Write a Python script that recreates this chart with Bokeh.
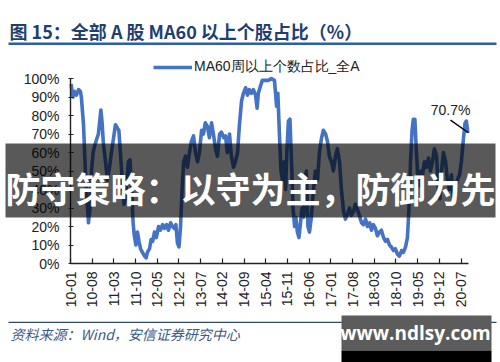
from bokeh.plotting import figure
from bokeh.models import (Range1d, FixedTicker, Label, BoxAnnotation, Legend,
                          LegendItem, PrintfTickFormatter)
from bokeh.embed import file_html
from bokeh.resources import INLINE

# ---------------- data ----------------
# months since 2010-01 (weekly series sampled)
t_months = [0.2, 0.5, 0.8, 1.3, 1.9, 2.6, 3.2, 3.5, 4.2, 4.8, 5.3, 5.8, 6.3, 6.8, 7.3, 7.7, 8.4, 9.0, 9.5, 9.8,
            10.2, 10.6, 11.3, 11.9, 12.6, 13.2, 13.9, 14.5, 15.2, 15.6, 16.1, 16.8, 17.3, 17.7, 18.2, 18.7, 19.2, 19.7,
            20.2, 20.6, 21.1, 21.6, 22.1, 22.6, 23.2, 23.9, 24.4, 24.8, 25.5, 26.0, 26.5, 27.1, 27.7, 28.4, 29.0, 29.7,
            30.3, 31.0, 31.6, 32.3, 32.9, 33.5, 34.0, 34.5, 35.0, 35.5, 36.0, 36.5, 37.1, 37.7, 38.4, 39.0, 39.7,
            40.3, 41.0, 41.6, 42.3, 42.9, 43.5, 44.2, 44.8, 45.5, 46.1, 46.8, 47.4, 48.1, 48.7, 49.4, 50.0, 50.6,
            51.3, 51.9, 52.6, 53.2, 53.9, 54.5, 55.2, 55.8, 56.5, 57.1, 57.7, 58.4, 59.0, 59.7, 60.2, 60.6, 61.3,
            61.9, 62.9, 63.9, 64.8, 65.8, 66.5, 66.9, 67.4, 67.9, 68.4, 68.9, 69.4, 69.8, 70.3, 70.8, 71.3, 71.8,
            72.3, 72.7, 73.2, 73.7, 74.2, 74.7, 75.2, 75.6, 76.1, 76.6, 77.1, 77.7, 78.4, 79.0, 79.7, 80.3, 81.0,
            81.6, 82.3, 82.9, 83.5, 84.2, 84.8, 85.5, 86.1, 86.8, 87.4, 88.1, 88.7, 89.4, 90.0, 90.6, 91.3, 91.9,
            92.6, 93.2, 93.9, 94.5, 95.2, 95.8, 96.5, 97.1, 97.7, 98.4, 99.0, 99.7, 100.3, 101.0, 101.6, 102.3,
            102.9, 103.5, 104.2, 104.8, 105.5, 106.1, 106.8, 107.4, 108.1, 108.7, 109.2, 109.7, 110.2, 110.6,
            111.1, 111.6, 112.1, 112.6, 113.1, 113.5, 114.2, 114.8, 115.5, 116.1, 116.8, 117.4, 118.1, 118.7,
            119.2, 119.7, 120.3, 121.0, 121.6, 122.3, 122.9, 123.5, 124.2, 124.8, 125.5, 126.1, 126.8, 127.3,
            127.7, 128.2]
share_pct = [97, 93, 90, 93, 91, 94, 93, 90, 75, 50, 35, 22, 30, 50, 60, 63, 67, 70, 78, 83,
             76, 65, 55, 45, 52, 60, 68, 75, 73, 72, 60, 42, 32, 35, 45, 55, 56, 40,
             22, 15, 10, 17, 12, 8, 6, 4, 3, 6, 8, 13, 12, 17, 14, 20, 18, 21,
             19, 21, 18, 22, 20, 19, 21, 11, 9, 20, 40, 55, 58, 52, 60, 66, 69,
             60, 55, 60, 72, 70, 76, 74, 68, 76, 70, 62, 58, 70, 71, 68, 69, 60,
             70, 58, 52, 55, 60, 75, 88, 92, 95, 91, 94, 92, 94, 91, 84, 92, 96,
             99, 99, 99, 100, 99, 85, 92, 70, 50, 45, 55, 40, 60, 77, 78, 55,
             30, 20, 25, 17, 14, 22, 30, 25, 45, 50, 20, 17, 25, 40, 50, 45, 60,
             68, 72, 70, 66, 58, 55, 50, 58, 62, 55, 40, 28, 24, 27, 30, 26, 28,
             32, 29, 26, 22, 21, 24, 20, 22, 18, 21, 19, 15, 17, 18, 14, 12, 13,
             10, 9, 7, 8, 5, 4, 7, 6, 9, 14, 30, 55, 72, 78,
             78, 60, 45, 42, 50, 47, 55, 52, 57, 50, 55, 62, 58, 40,
             35, 50, 60, 55, 45, 40, 48, 36, 42, 45, 48, 55, 68, 76,
             77, 70.7]
assert len(t_months) == len(share_pct), (len(t_months), len(share_pct))

tick_months = [0, 7, 14, 21, 28, 35, 42, 49, 56, 63, 70, 77, 84, 91, 98, 105, 112, 119, 126]
tick_labels = ["10-01", "10-08", "11-03", "11-10", "12-05", "12-12", "13-07", "14-02", "14-09",
               "15-04", "15-11", "16-06", "17-01", "17-08", "18-03", "18-10", "19-05", "19-12", "20-07"]
y_ticks = [0, 10, 20, 30, 40, 50, 60, 70, 80, 90, 100]
x_end = 128.5
y_end = 100

series_name = "MA60周以上个数占比_全A"
last_label = "70.7%"
last_value = 70.7
title_text = "图 15：全部 A 股 MA60 以上个股占比（%）"
source_text = "资料来源：Wind，安信证券研究中心"
banner_text = "防守策略：以守为主，防御为先"
watermark_text = "www.ndlsy.com"

# ---------------- layout (page pixels) ----------------
W, H = 500, 362
AX_LEFT, AX_RIGHT = 70.0, 468.3     # pixel x of month 0 and x_end
AX_BOTTOM, AX_TOP = 263.0, 78.0     # pixel y of 0% and 100%
kx = (AX_RIGHT - AX_LEFT) / x_end
ky = (AX_BOTTOM - AX_TOP) / y_end

p = figure(width=W, height=H, output_backend="svg", toolbar_location=None,
           x_range=Range1d(-AX_LEFT / kx, (W - AX_LEFT) / kx),
           y_range=Range1d(-(H - AX_BOTTOM) / ky, AX_BOTTOM / ky),
           min_border=0, min_border_left=0, min_border_right=0, min_border_top=0, min_border_bottom=0)
p.outline_line_color = None
p.grid.grid_line_color = None
p.background_fill_color = "white"
p.border_fill_color = "white"

BLUE = "#4472C4"
r = p.line(t_months, share_pct, line_color=BLUE, line_width=3.6, line_join="round")

# axes drawn at fixed locations inside the canvas
for ax in (p.xaxis[0], p.yaxis[0]):
    ax.fixed_location = 0
    ax.axis_line_color = "#222222"
    ax.axis_line_width = 1.4
    ax.major_tick_line_color = "#222222"
    ax.major_tick_line_width = 1.2
    ax.minor_tick_line_color = None
    ax.major_label_text_font = "Liberation Sans"
    ax.major_label_text_font_size = "14px"
    ax.major_label_text_color = "#222222"

p.xaxis.bounds = (0, x_end)
p.xaxis.ticker = FixedTicker(ticks=tick_months)
p.xaxis.major_label_overrides = {m: lab for m, lab in zip(tick_months, tick_labels)}
p.xaxis.major_label_orientation = 1.5708
p.xaxis.major_tick_in = 5
p.xaxis.major_tick_out = 0
p.xaxis.major_label_standoff = 8

p.yaxis.bounds = (0, y_end)
p.yaxis.ticker = FixedTicker(ticks=y_ticks)
p.yaxis.formatter = PrintfTickFormatter(format="%d%%")
p.yaxis.major_tick_in = 3
p.yaxis.major_tick_out = 2
p.yaxis.major_label_standoff = 9

# annotation of last value
p.segment(x0=[122.6], y0=[77.5], x1=[128.4], y1=[last_value], line_color="black", line_width=1.4)
p.add_layout(Label(x=122.6, y=83.2, text=last_label, text_align="center", text_baseline="middle",
                   text_font="Liberation Sans", text_font_size="14px", text_color="#222222"))


# positions given in page pixels -> screen units (from canvas bottom-left)
def sx(px):
    return px


def sy(py):
    return H - py


# legend
legend = Legend(items=[LegendItem(label=series_name, renderers=[r])],
                location=(sx(153), sy(76)), orientation="horizontal",
                padding=0, margin=0, spacing=0, glyph_width=39, glyph_height=16,
                label_height=16, label_standoff=2,
                border_line_color=None, background_fill_alpha=0,
                label_text_font="Liberation Sans", label_text_font_size="14px",
                label_text_color="#222222")
p.add_layout(legend)


def box(left, right, top, bottom, color, alpha=1.0):
    return BoxAnnotation(left=sx(left), right=sx(right), top=sy(top), bottom=sy(bottom),
                         left_units="screen", right_units="screen", top_units="screen",
                         bottom_units="screen", fill_color=color, fill_alpha=alpha, line_color=None)


# title + underline
p.add_layout(Label(x=sx(9), y=sy(30), x_units="screen", y_units="screen", text=title_text,
                   text_baseline="middle", text_font="Noto Sans CJK SC", text_font_style="bold",
                   text_font_size="18px", text_color="#1F3F73"))
p.add_layout(box(8, 496, 42, 44.5, "#2F5F9E"))

# source separator + source text
p.add_layout(box(8, 496, 321.3, 322.5, "#2F4A70"))
p.add_layout(Label(x=sx(10), y=sy(333), x_units="screen", y_units="screen", text=source_text,
                   text_baseline="middle", text_font="Noto Sans CJK SC", text_font_style="italic",
                   text_font_size="14px", text_color="#3A5A8C"))

# banner overlay
p.add_layout(box(5, 495, 143, 217, "black", 0.65))
p.add_layout(Label(x=sx(5), y=sy(187), x_units="screen", y_units="screen", text=banner_text,
                   text_baseline="middle", text_font="Noto Sans CJK SC", text_font_style="bold",
                   text_font_size="35px", text_color="white"))

# watermark
p.add_layout(box(341, 491, 315, 350, "#5c5c5c"))
p.add_layout(box(341, 491, 350, 362, "black"))
p.add_layout(Label(x=sx(415), y=sy(332), x_units="screen", y_units="screen", text=watermark_text,
                   text_align="center", text_baseline="middle", text_font="Open Sans",
                   text_font_style="bold", text_font_size="19px", text_color="white"))

open("out.html", "w").write(file_html(p, INLINE))
